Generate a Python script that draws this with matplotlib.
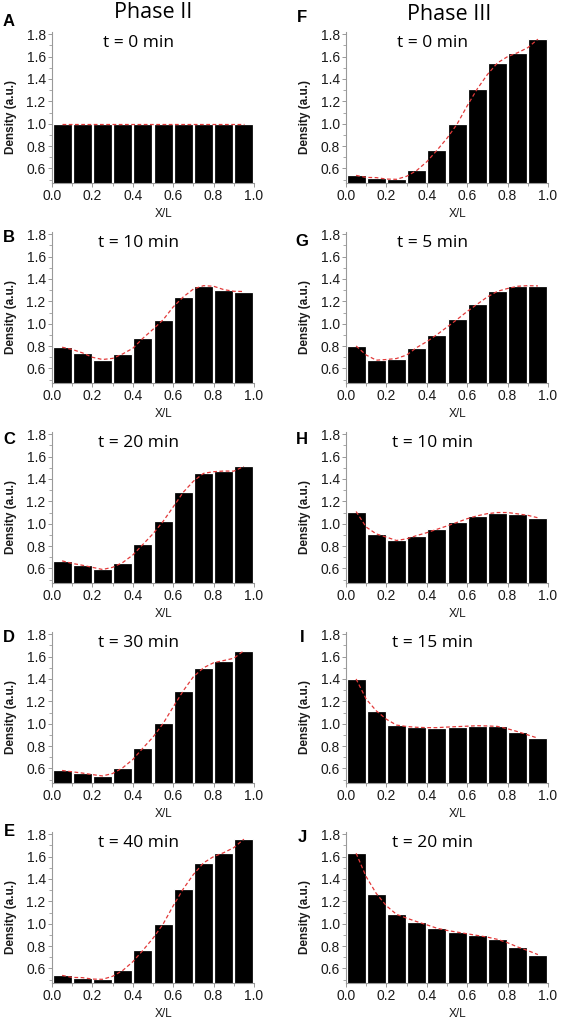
import numpy as np
import matplotlib
matplotlib.use('Agg')
import matplotlib.pyplot as plt
from matplotlib.ticker import MultipleLocator

# --- data ---
x_centers = [0.05, 0.15, 0.25, 0.35, 0.45, 0.55, 0.65, 0.75, 0.85, 0.95]
x_mids = [0.10, 0.20, 0.30, 0.40, 0.50, 0.60, 0.70, 0.80, 0.90]

dens_A = [1.0] * 10
dens_B = [0.79, 0.74, 0.68, 0.73, 0.87, 1.035, 1.24, 1.34, 1.305, 1.288]
dens_C = [0.668, 0.629, 0.591, 0.653, 0.815, 1.021, 1.282, 1.45, 1.471, 1.512]
dens_D = [0.582, 0.559, 0.533, 0.606, 0.782, 1.002, 1.295, 1.50, 1.565, 1.653]
dens_E = [0.538, 0.518, 0.503, 0.582, 0.762, 0.997, 1.312, 1.544, 1.635, 1.756]
dens_F = [0.538, 0.518, 0.503, 0.582, 0.762, 0.997, 1.312, 1.544, 1.635, 1.756]
dens_G = [0.801, 0.674, 0.689, 0.787, 0.902, 1.038, 1.175, 1.29, 1.335, 1.338]
dens_H = [1.109, 0.909, 0.85, 0.894, 0.95, 1.012, 1.071, 1.10, 1.088, 1.053]
dens_I = [1.40, 1.115, 0.988, 0.968, 0.965, 0.974, 0.982, 0.976, 0.929, 0.871]
dens_J = [1.63, 1.27, 1.084, 1.019, 0.96, 0.925, 0.895, 0.86, 0.792, 0.724]

# red dashed fit, read between the bar centres
fit_A = [1.0] * 9
fit_B = [0.77, 0.70, 0.69, 0.78, 0.95, 1.15, 1.31, 1.335, 1.29]
fit_C = [0.645, 0.61, 0.61, 0.72, 0.91, 1.15, 1.38, 1.465, 1.47]
fit_D = [0.57, 0.545, 0.555, 0.68, 0.88, 1.15, 1.42, 1.545, 1.585]
fit_E = [0.52, 0.505, 0.53, 0.66, 0.87, 1.16, 1.44, 1.60, 1.68]
fit_F = [0.52, 0.505, 0.53, 0.66, 0.87, 1.16, 1.44, 1.60, 1.68]
fit_G = [0.72, 0.68, 0.72, 0.84, 0.97, 1.11, 1.24, 1.315, 1.34]
fit_H = [0.97, 0.88, 0.865, 0.92, 0.98, 1.045, 1.09, 1.10, 1.075]
fit_I = [1.22, 1.04, 0.975, 0.965, 0.97, 0.978, 0.98, 0.955, 0.90]
fit_J = [1.42, 1.16, 1.05, 0.99, 0.94, 0.91, 0.88, 0.83, 0.76]

letters_left = ['A', 'B', 'C', 'D', 'E']
letters_right = ['F', 'G', 'H', 'I', 'J']
times_left = ['t = 0 min', 't = 10 min', 't = 20 min', 't = 30 min', 't = 40 min']
times_right = ['t = 0 min', 't = 5 min', 't = 10 min', 't = 15 min', 't = 20 min']

dens_left = [dens_A, dens_B, dens_C, dens_D, dens_E]
dens_right = [dens_F, dens_G, dens_H, dens_I, dens_J]
fit_left = [fit_A, fit_B, fit_C, fit_D, fit_E]
fit_right = [fit_F, fit_G, fit_H, fit_I, fit_J]

W, H = 562, 1019
fig = plt.figure(figsize=(W / 100, H / 100), dpi=100)

title_font = ['Open Sans', 'DejaVu Sans']
tick_font = 'Liberation Sans'

ax_w = 202 / W
ax_h = 151 / H
col_left = [52 / W, 346 / W]
letter_x = [9 / W, 302 / W]
letter_y = [[21, 238, 439, 638, 832], [18, 241, 440, 637, 838]]


def draw_panel(ax, dens, fit, tlabel):
    ax.bar(x_centers, dens, width=0.094, color='black', edgecolor='white',
           linewidth=0.9, zorder=2)
    # merge bar tops and midpoints for the dashed fit
    fx = np.array(x_centers[:1] + [v for pair in zip(x_mids, x_centers[1:]) for v in pair])
    fy = np.array(dens[:1] + [v for pair in zip(fit, dens[1:]) for v in pair])
    ax.plot(fx, fy, color='#e23a3a', ls=(0, (3, 2)), lw=0.9, zorder=3)
    ax.set_xlim(0, 1.0)
    ax.set_ylim(0.47, 1.82)
    ax.xaxis.set_minor_locator(MultipleLocator(0.1))
    ax.yaxis.set_minor_locator(MultipleLocator(0.1))
    ax.set_yticks([0.6, 0.8, 1.0, 1.2, 1.4, 1.6, 1.8])
    ax.set_xticks([0.0, 0.2, 0.4, 0.6, 0.8, 1.0])
    ax.set_xticklabels(['0.0', '0.2', '0.4', '0.6', '0.8', '1.0'])
    for s in ['top', 'right']:
        ax.spines[s].set_visible(False)
    for s in ['left', 'bottom']:
        ax.spines[s].set_color('#999999')
        ax.spines[s].set_linewidth(0.8)
    ax.tick_params(which='major', direction='out', length=3, width=0.7,
                   color='#999999', labelsize=10, pad=1.5, labelcolor='#1a1a1a')
    ax.tick_params(which='minor', direction='out', length=2, width=0.6, color='#999999')
    for lab in ax.get_xticklabels() + ax.get_yticklabels():
        lab.set_fontfamily(tick_font)
    ax.set_ylabel('Density (a.u.)', fontsize=8.5, fontweight='bold',
                  fontfamily=tick_font, color='#1a1a1a')
    ax.yaxis.set_label_coords(-0.175, 0.44)
    ax.set_xlabel('X/L', fontsize=8.5, fontfamily=tick_font, color='#1a1a1a')
    ax.xaxis.set_label_coords(0.55, -0.165)
    ax.text(0.43, 0.93, tlabel, transform=ax.transAxes, ha='center', va='center',
            fontsize=12.5, fontfamily=title_font, color='black')


for c in range(2):
    dens_col = dens_left if c == 0 else dens_right
    fit_col = fit_left if c == 0 else fit_right
    times = times_left if c == 0 else times_right
    letters = letters_left if c == 0 else letters_right
    for r in range(5):
        bottom = 1 - (183 + 200 * r) / H
        ax = fig.add_axes([col_left[c], bottom, ax_w, ax_h])
        draw_panel(ax, dens_col[r], fit_col[r], times[r])
        fig.text(letter_x[c], 1 - letter_y[c][r] / H, letters[r], ha='center', va='center',
                 fontsize=12, fontweight='bold', fontfamily=tick_font)

fig.text(153 / W, 1 - 13 / H, 'Phase II', ha='center', va='center',
         fontsize=15.5, fontfamily=title_font)
fig.text(449 / W, 1 - 14 / H, 'Phase III', ha='center', va='center',
         fontsize=15.5, fontfamily=title_font)

fig.savefig('out.png', dpi=100)
